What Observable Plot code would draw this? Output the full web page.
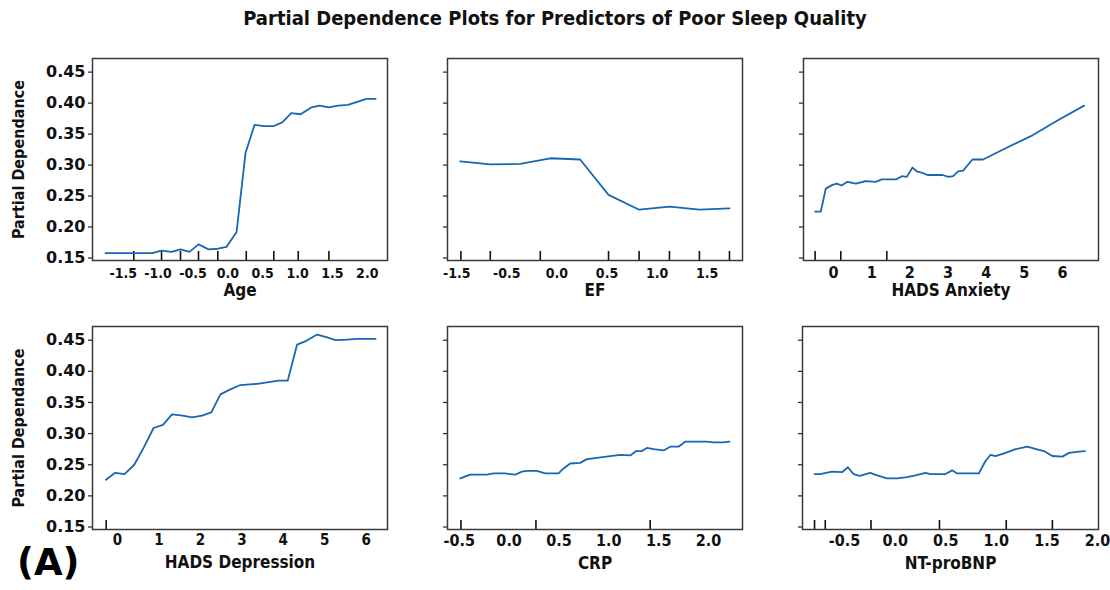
<!DOCTYPE html>
<html><head><meta charset="utf-8">
<script src="https://cdn.jsdelivr.net/npm/d3@7"></script>
<script src="https://cdn.jsdelivr.net/npm/@observablehq/plot@0.6"></script>
<style>
body{margin:0;background:#fff;}
#root{position:relative;width:1110px;height:590px;overflow:hidden;background:#fff;}
#title{position:absolute;left:0;top:6px;width:1110px;text-align:center;font-family:"DejaVu Sans Condensed","DejaVu Sans",sans-serif;font-weight:bold;font-size:20px;color:#111;}
#tag{position:absolute;left:17px;top:541px;font-family:"DejaVu Sans",sans-serif;font-weight:bold;font-size:37px;color:#000;}
.panel{position:absolute;}
</style></head>
<body><div id="root"><div id="title">Partial Dependence Plots for Predictors of Poor Sleep Quality</div><div id="tag">(A)</div></div>
<script>
// ---- shared y axis ----
const yTicks = [0.15, 0.20, 0.25, 0.30, 0.35, 0.40, 0.45];
const yTickLabels = ["0.15", "0.20", "0.25", "0.30", "0.35", "0.40", "0.45"];
const yLabel = "Partial Dependance";

// ---- Age ----
const ageX = [-1.754, -1.084, -0.95, -0.807, -0.678, -0.549, -0.42, -0.276, -0.143, -0.017, 0.126, 0.255, 0.384, 0.517, 0.66, 0.781, 0.91, 1.044, 1.197, 1.316, 1.45, 1.58, 1.722, 1.857, 1.986, 2.12];
const ageY = [0.158, 0.158, 0.162, 0.160, 0.164, 0.160, 0.172, 0.164, 0.165, 0.168, 0.192, 0.320, 0.365, 0.363, 0.363, 0.369, 0.384, 0.382, 0.393, 0.396, 0.393, 0.396, 0.397, 0.402, 0.407, 0.407];
const ageRug = [-1.348, -0.95, -0.678, -0.42, -0.143, 0.265, 0.66, 1.01, 1.45];
const ageTicks = [-1.5, -1.0, -0.5, 0.0, 0.5, 1.0, 1.5, 2.0];
const ageTickLabels = ["-1.5", "-1.0", "-0.5", "0.0", "0.5", "1.0", "1.5", "2.0"];

// ---- EF ----
const efX = [-0.965, -0.665, -0.366, -0.067, 0.232, 0.515, 0.821, 1.124, 1.423, 1.722];
const efY = [0.306, 0.301, 0.302, 0.311, 0.309, 0.252, 0.228, 0.233, 0.228, 0.230];
const efRug = [-0.958, -0.665, -0.166, 0.515, 0.82, 1.123, 1.422, 1.722];
const efTicks = [-1.0, -0.5, 0.0, 0.5, 1.0, 1.5];
const efTickLabels = ["-1.5", "-0.5", "0.0", "0.5", "1.0", "1.5"];

// ---- HADS Anxiety ----
const anxX = [-0.482, -0.333, -0.202, -0.026, 0.087, 0.21, 0.367, 0.584, 0.846, 1.108, 1.265, 1.65, 1.789, 1.92, 2.07, 2.18, 2.305, 2.462, 2.856, 3.013, 3.134, 3.265, 3.396, 3.642, 3.92, 4.47, 5.214, 5.869, 6.566];
const anxY = [0.225, 0.225, 0.262, 0.268, 0.270, 0.267, 0.273, 0.270, 0.274, 0.273, 0.277, 0.277, 0.282, 0.281, 0.296, 0.290, 0.288, 0.284, 0.284, 0.281, 0.282, 0.290, 0.291, 0.309, 0.309, 0.326, 0.348, 0.372, 0.396];
const anxRug = [-0.482, 0.191, 1.396];
const anxTicks = [0, 1, 2, 3, 4, 5, 6];
const anxTickLabels = ["0", "1", "2", "3", "4", "5", "6"];

// ---- HADS Depression ----
const depX = [-0.28, -0.056, 0.169, 0.403, 0.628, 0.87, 1.096, 1.314, 1.57, 1.797, 2.039, 2.263, 2.481, 2.722, 2.964, 3.367, 3.889, 4.106, 4.333, 4.558, 4.816, 5.041, 5.258, 5.541, 5.783, 6.225];
const depY = [0.226, 0.237, 0.235, 0.250, 0.277, 0.309, 0.314, 0.331, 0.329, 0.326, 0.329, 0.334, 0.363, 0.371, 0.378, 0.380, 0.385, 0.385, 0.443, 0.449, 0.459, 0.455, 0.450, 0.451, 0.452, 0.452];
const depRug = [-0.273];
const depTicks = [0, 1, 2, 3, 4, 5, 6];
const depTickLabels = ["0", "1", "2", "3", "4", "5", "6"];

// ---- CRP ----
const crpX = [-0.49, -0.39, -0.223, -0.156, -0.039, 0.061, 0.128, 0.178, 0.279, 0.362, 0.496, 0.546, 0.613, 0.713, 0.78, 0.88, 1.014, 1.114, 1.215, 1.275, 1.332, 1.382, 1.449, 1.549, 1.616, 1.699, 1.766, 1.984, 2.05, 2.15, 2.21];
const crpY = [0.228, 0.234, 0.234, 0.236, 0.236, 0.234, 0.239, 0.240, 0.240, 0.236, 0.236, 0.244, 0.252, 0.253, 0.259, 0.261, 0.264, 0.266, 0.265, 0.272, 0.272, 0.277, 0.275, 0.273, 0.279, 0.279, 0.287, 0.287, 0.286, 0.286, 0.287];
const crpRug = [-0.483, 0.269, 1.415];
const crpTicks = [-0.5, 0.0, 0.5, 1.0, 1.5, 2.0];
const crpTickLabels = ["-0.5", "0.0", "0.5", "1.0", "1.5", "2.0"];

// ---- NT-proBNP ----
const bnpX = [-0.797, -0.741, -0.625, -0.526, -0.467, -0.411, -0.352, -0.246, -0.179, -0.08, 0.019, 0.118, 0.2, 0.299, 0.349, 0.497, 0.563, 0.613, 0.827, 0.893, 0.943, 0.992, 1.092, 1.19, 1.306, 1.421, 1.471, 1.554, 1.653, 1.719, 1.817, 1.877];
const bnpY = [0.235, 0.235, 0.239, 0.238, 0.246, 0.235, 0.232, 0.237, 0.233, 0.228, 0.228, 0.230, 0.233, 0.237, 0.235, 0.235, 0.241, 0.236, 0.236, 0.256, 0.266, 0.264, 0.269, 0.275, 0.279, 0.274, 0.272, 0.264, 0.263, 0.269, 0.271, 0.272];
const bnpRug = [-0.797, -0.691, -0.239, 0.438, 1.098, 1.554];
const bnpTicks = [-0.5, 0.0, 0.5, 1.0, 1.5, 2.0];
const bnpTickLabels = ["-0.5", "0.0", "0.5", "1.0", "1.5", "2.0"];

// ---- layout (positions only) ----
const panels = [
  {name: "Age", x: ageX, y: ageY, rug: ageRug, ticks: ageTicks, labels: ageTickLabels, xDomain: [-1.94, 2.29],
   left: 0, top: 50, width: 390, height: 260, ml: 92, mr: 3, mt: 8, mb: 50, showY: true, tickFs: 14, tickPad: 8, labDy: 30},
  {name: "EF", x: efX, y: efY, rug: efRug, ticks: efTicks, labels: efTickLabels, xDomain: [-1.092, 1.852],
   left: 390, top: 50, width: 360, height: 260, ml: 57, mr: 8, mt: 8, mb: 50, showY: false, tickFs: 14, tickPad: 8, labDy: 30},
  {name: "HADS Anxiety", x: anxX, y: anxY, rug: anxRug, ticks: anxTicks, labels: anxTickLabels, xDomain: [-0.786, 6.943],
   left: 750, top: 50, width: 360, height: 260, ml: 53, mr: 12, mt: 8, mb: 50, showY: false, tickFs: 16, tickPad: 6, labDy: 30},
  {name: "HADS Depression", x: depX, y: depY, rug: depRug, ticks: depTicks, labels: depTickLabels, xDomain: [-0.604, 6.514],
   left: 0, top: 318, width: 390, height: 272, ml: 92, mr: 3, mt: 8, mb: 61, showY: true, tickFs: 15, tickPad: 5, labDy: 33},
  {name: "CRP", x: crpX, y: crpY, rug: crpRug, ticks: crpTicks, labels: crpTickLabels, xDomain: [-0.618, 2.341],
   left: 390, top: 318, width: 360, height: 272, ml: 57, mr: 8, mt: 8, mb: 61, showY: false, tickFs: 16, tickPad: 5, labDy: 34},
  {name: "NT-proBNP", x: bnpX, y: bnpY, rug: bnpRug, ticks: bnpTicks, labels: bnpTickLabels, xDomain: [-0.916, 2.01],
   left: 750, top: 318, width: 360, height: 272, ml: 52, mr: 12, mt: 8, mb: 61, showY: false, tickFs: 16, tickPad: 5, labDy: 34}
];
const yDomain = [0.146, 0.472];
const lineColor = "#1767b2";
const root = document.getElementById("root");
const condensed = "DejaVu Sans Condensed, DejaVu Sans, sans-serif";

for (const p of panels) {
  const data = p.x.map((x, i) => ({x, y: p.y[i]}));
  const xFmt = new Map(p.ticks.map((t, i) => [t, p.labels[i]]));
  const yFmt = new Map(yTicks.map((t, i) => [t, yTickLabels[i]]));
  const frameH = p.height - p.mt - p.mb;
  const marks = [
    Plot.axisY(yTicks, {tickSize: 4, tickPadding: 3, fontSize: 16, label: null, stroke: "#333", strokeWidth: 1.3,
      tickFormat: p.showY ? (d) => yFmt.get(d) : () => ""}),
    Plot.axisX(p.ticks, {tickSize: 0, tickPadding: p.tickPad, fontSize: p.tickFs, fontFamily: condensed, label: null,
      tickFormat: (d) => xFmt.get(d)}),
    Plot.ruleX(p.rug, {insetTop: frameH - 9, stroke: "#111", strokeWidth: 1.6}),
    Plot.line(data, {x: "x", y: "y", stroke: lineColor, strokeWidth: 1.8}),
    Plot.frame({stroke: "#3a3a3a", strokeWidth: 1.5}),
    Plot.text([p.name], {text: (d) => d, frameAnchor: "bottom", dy: p.labDy, fontSize: 17, fontFamily: condensed, lineAnchor: "middle"})
  ];
  if (p.showY) {
    marks.push(Plot.text([yLabel], {text: (d) => d, frameAnchor: "left", dx: -74, rotate: -90, textAnchor: "middle",
      fontSize: 16, fontFamily: condensed, lineAnchor: "middle"}));
  }
  const svg = Plot.plot({
    width: p.width, height: p.height,
    marginLeft: p.ml, marginRight: p.mr, marginTop: p.mt, marginBottom: p.mb,
    x: {domain: p.xDomain},
    y: {domain: yDomain},
    style: {fontFamily: "DejaVu Sans, sans-serif", fontWeight: "bold", color: "#111", background: "transparent", overflow: "visible"},
    marks
  });
  svg.classList.add("panel");
  svg.style.left = p.left + "px";
  svg.style.top = p.top + "px";
  root.appendChild(svg);
}
</script>
</body></html>
